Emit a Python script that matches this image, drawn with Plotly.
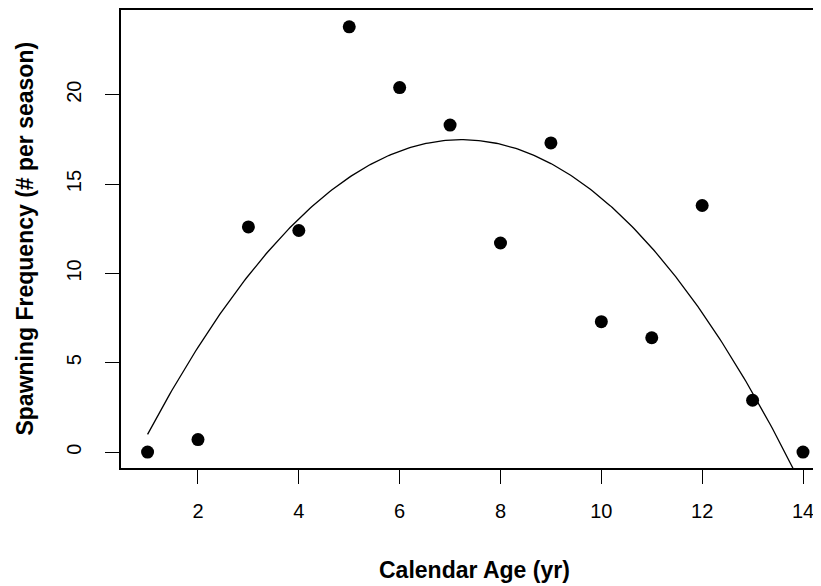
import numpy as np
import plotly.graph_objects as go

age = [1, 2, 3, 4, 5, 6, 7, 8, 9, 10, 11, 12, 13, 14]
freq = [0, 0.7, 12.6, 12.4, 23.8, 20.4, 18.3, 11.7, 17.3, 7.3, 6.4, 13.8, 2.9, 0]
x_ticks = [2, 4, 6, 8, 10, 12, 14]
y_ticks = [0, 5, 10, 15, 20]

# quadratic least-squares fit (as in the original lm with poly term)
coef = np.polyfit(age, freq, 2)
xf = np.linspace(min(age), max(age), 300)
yf = np.polyval(coef, xf)

FONT = "Liberation Sans, Arial, sans-serif"

fig = go.Figure()
fig.add_trace(go.Scatter(x=xf, y=yf, mode="lines",
                         line=dict(color="black", width=1.3), hoverinfo="skip"))
fig.add_trace(go.Scatter(x=age, y=freq, mode="markers",
                         marker=dict(color="black", size=13)))

fig.update_layout(
    width=813, height=578,
    margin=dict(l=113, r=0, t=0, b=118),
    plot_bgcolor="white", paper_bgcolor="white",
    showlegend=False,
    font=dict(family=FONT, color="black"),
)
fig.update_xaxes(range=[0.473, 14.357], tickvals=x_ticks,
                 showgrid=False, zeroline=False,
                 showline=True, linecolor="black", linewidth=1.5, mirror=True,
                 ticks="outside", ticklen=14, tickwidth=1.3, tickcolor="black",
                 tickfont=dict(size=20, family=FONT), ticklabelstandoff=10)
fig.update_yaxes(range=[-0.89, 24.74], tickvals=y_ticks,
                 showgrid=False, zeroline=False,
                 showline=True, linecolor="black", linewidth=1.5,
                 ticks="outside", ticklen=14, tickwidth=1.3, tickcolor="black",
                 tickangle=-90,
                 tickfont=dict(size=20, family=FONT), ticklabelstandoff=16)

fig.add_annotation(text="<b>Calendar Age (yr)</b>", xref="paper", yref="paper",
                   x=(467 - 113) / 700, y=(460 - 562) / 460,
                   xanchor="center", yanchor="middle", showarrow=False,
                   font=dict(size=23, family=FONT))
fig.add_annotation(text="<b>Spawning Frequency (# per season)</b>", xref="paper", yref="paper",
                   x=(17 - 113) / 700, y=0.501, textangle=-90,
                   xanchor="center", yanchor="middle", showarrow=False,
                   font=dict(size=23, family=FONT))

fig.write_html("out.html")
